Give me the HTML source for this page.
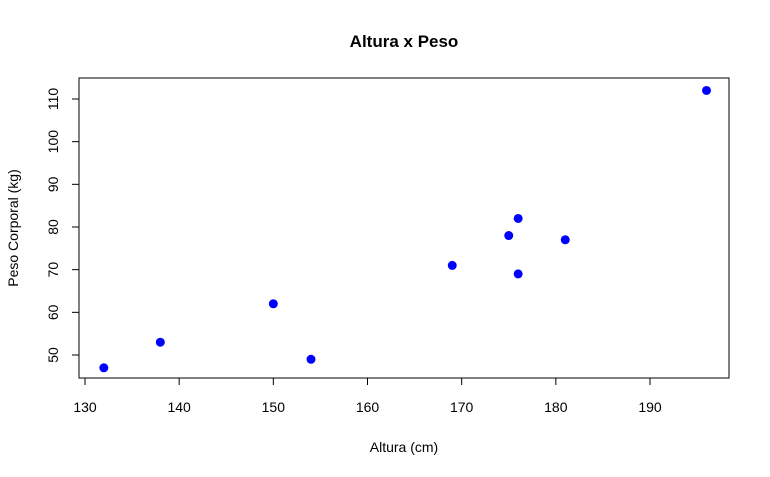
<!DOCTYPE html>
<html><head><meta charset="utf-8"><style>
html,body{margin:0;padding:0;background:#fff;}
svg{display:block;font-family:"Liberation Sans",Arial,sans-serif;}
</style></head><body>
<svg id="chart" width="770" height="477">
<text x="404" y="47" text-anchor="middle" font-size="17" font-weight="bold">Altura x Peso</text>
<rect x="79" y="78" width="650" height="300" fill="none" stroke="#000" stroke-width="1"/>
<text x="404" y="452" text-anchor="middle" font-size="14">Altura (cm)</text>
<text transform="translate(18,228) rotate(-90)" text-anchor="middle" font-size="14">Peso Corporal (kg)</text>
<g id="xaxis"></g>
<g id="yaxis"></g>
<g id="points"></g>
</svg>
<script>
const alturas=[132,138,150,154,169,175,176,176,181,196];
const pesos=[47,53,62,49,71,78,82,69,77,112];
const xTicks=[130,140,150,160,170,180,190];
const yTicks=[50,60,70,80,90,100,110];
const NS="http://www.w3.org/2000/svg";
function sx(v){return 85+(v-130)*(650-85)/60;}
function sy(v){return 355-(v-50)*(355-99)/60;}
function mk(t,a,p){const e=document.createElementNS(NS,t);for(const k in a)e.setAttribute(k,a[k]);p.appendChild(e);return e;}
const xa=document.getElementById('xaxis'),ya=document.getElementById('yaxis'),pg=document.getElementById('points');
mk('line',{x1:sx(130),x2:sx(190),y1:378,y2:378,stroke:'#000'},xa);
xTicks.forEach(v=>{
 const l=mk('line',{x1:sx(v),x2:sx(v),y1:378,y2:385,stroke:'#000'},xa);
 
 
 const t=mk('text',{x:sx(v),y:412,'text-anchor':'middle','font-size':14},xa);
 t.textContent=v;
 
 
});
mk('line',{x1:79,x2:79,y1:sy(50),y2:sy(110),stroke:'#000'},ya);
yTicks.forEach(v=>{
 const l=mk('line',{x1:72,x2:79,y1:sy(v),y2:sy(v),stroke:'#000'},ya);
 
 
 const t=mk('text',{x:0,y:0,'text-anchor':'middle','font-size':14,transform:`translate(58,${sy(v)}) rotate(-90)`},ya);
 t.textContent=v;
 
 
});
alturas.forEach((a,i)=>{
 const c=mk('circle',{cx:sx(a),cy:sy(pesos[i]),r:4.5,fill:'#0000ff'},pg);
 
 
});
</script>
</body></html>
